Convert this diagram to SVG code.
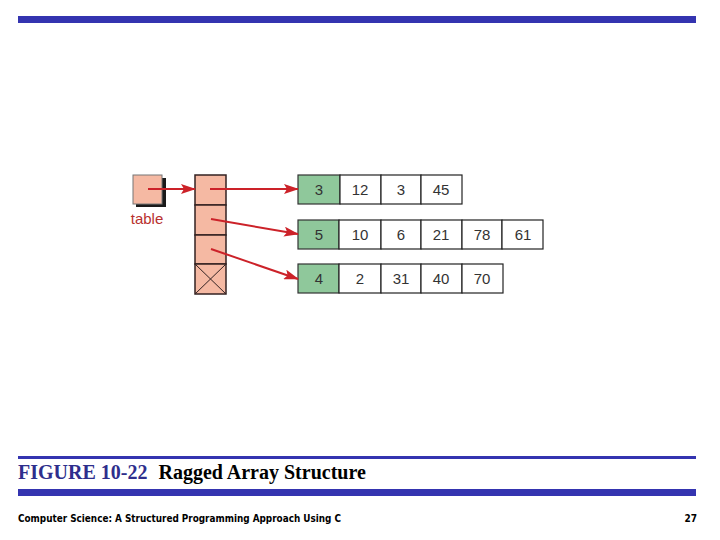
<svg xmlns="http://www.w3.org/2000/svg" width="720" height="540" viewBox="0 0 720 540">
<style>
.bar{fill:#3434b0}
.cell{fill:#ffffff;stroke:#222;stroke-width:1.2}
.head{fill:#8fc89b;stroke:#333;stroke-width:1.2}
.ptr{fill:#f5b9a3;stroke:#332222;stroke-width:1.5}
.num{font-family:"Liberation Sans",Arial,sans-serif;font-size:15px;fill:#333;text-anchor:middle}
.arr{stroke:#cc2229;stroke-width:2;fill:none;marker-end:url(#ah)}
</style>
<defs>
<marker id="ah" markerWidth="15" markerHeight="10" refX="14" refY="5" orient="auto" markerUnits="userSpaceOnUse">
<path d="M0,0 L15,5 L0,10 L3,5 Z" fill="#cc2229"/>
</marker>
</defs>
<rect width="720" height="540" fill="#ffffff"/>
<rect class="bar" x="18" y="16" width="678" height="7"/>
<rect class="bar" x="18" y="456" width="678" height="3"/>
<rect class="bar" x="18" y="489" width="678" height="7"/>
<text x="18" y="479" font-family="'Liberation Serif','Times New Roman',serif" font-size="20" font-weight="bold"><tspan fill="#2e2e8c">FIGURE 10-22</tspan><tspan fill="#000" dx="11">Ragged Array Structure</tspan></text>
<text x="18" y="522" font-family="'DejaVu Sans Condensed','Liberation Sans',sans-serif" font-size="10" font-weight="bold" fill="#000" textLength="323" lengthAdjust="spacingAndGlyphs">Computer Science: A Structured Programming Approach Using C</text>
<text x="697" y="522" font-family="'DejaVu Sans Condensed','Liberation Sans',sans-serif" font-size="10" font-weight="bold" fill="#000" text-anchor="end">27</text>

<g id="table">
<rect x="136" y="178" width="30" height="29" fill="#1a1a1a"/>
<rect x="133" y="175" width="29" height="29" fill="#f5b9a3" stroke="#777" stroke-width="1"/>
<text x="147" y="224" font-family="'Liberation Sans',Arial,sans-serif" font-size="15" fill="#b8302e" text-anchor="middle">table</text>
</g>

<g id="pointers">
<rect class="ptr" x="195" y="175" width="31" height="30"/>
<rect class="ptr" x="195" y="205" width="31" height="30"/>
<rect class="ptr" x="195" y="235" width="31" height="29"/>
<rect class="ptr" x="195" y="264" width="31" height="30"/>
<path d="M195,264 L226,294 M226,264 L195,294" stroke="#332222" stroke-width="1"/>
</g>

<g id="row1">
<rect class="head" x="298" y="175" width="42" height="29"/>
<rect class="cell" x="340" y="175" width="41" height="29"/>
<rect class="cell" x="381" y="175" width="40" height="29"/>
<rect class="cell" x="421" y="175" width="41" height="29"/>
<text class="num" x="319" y="195">3</text>
<text class="num" x="360" y="195">12</text>
<text class="num" x="401" y="195">3</text>
<text class="num" x="441" y="195">45</text>
</g>

<g id="row2">
<rect class="head" x="298" y="220" width="41" height="29"/>
<rect class="cell" x="339" y="220" width="42" height="29"/>
<rect class="cell" x="381" y="220" width="40" height="29"/>
<rect class="cell" x="421" y="220" width="41" height="29"/>
<rect class="cell" x="462" y="220" width="40" height="29"/>
<rect class="cell" x="502" y="220" width="41" height="29"/>
<text class="num" x="319" y="240">5</text>
<text class="num" x="360" y="240">10</text>
<text class="num" x="401" y="240">6</text>
<text class="num" x="441" y="240">21</text>
<text class="num" x="482" y="240">78</text>
<text class="num" x="523" y="240">61</text>
</g>

<g id="row3">
<rect class="head" x="298" y="264" width="41" height="29"/>
<rect class="cell" x="339" y="264" width="42" height="29"/>
<rect class="cell" x="381" y="264" width="40" height="29"/>
<rect class="cell" x="421" y="264" width="41" height="29"/>
<rect class="cell" x="462" y="264" width="41" height="29"/>
<text class="num" x="319" y="284">4</text>
<text class="num" x="360" y="284">2</text>
<text class="num" x="401" y="284">31</text>
<text class="num" x="441" y="284">40</text>
<text class="num" x="482" y="284">70</text>
</g>

<g id="connectors">
<path class="arr" d="M148,189 L195,189"/>
<path class="arr" d="M210,189 L298,189"/>
<path class="arr" d="M211,219 L298,234"/>
<path class="arr" d="M211,249 L298,279"/>
</g>
</svg>
